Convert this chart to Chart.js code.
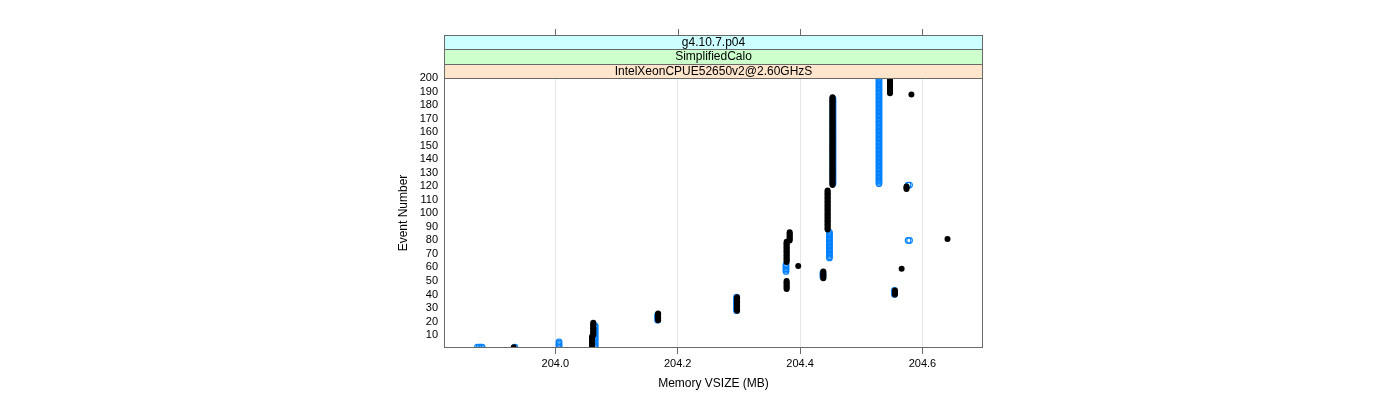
<!DOCTYPE html>
<html><head><meta charset="utf-8">
<script src="https://cdn.jsdelivr.net/npm/chart.js@4/dist/chart.umd.min.js"></script>
<style>html,body{margin:0;padding:0;background:#fff;}#wrap{width:1400px;height:400px;}</style>
</head><body><div id="wrap"><canvas id="c" width="1400" height="400"></canvas></div>
<script>
// ---- data ----
const stripLabels = ["g4.10.7.p04", "SimplifiedCalo", "IntelXeonCPUE52650v2@2.60GHzS"];
const stripColors = ["#ccffff", "#ccffcc", "#ffe5cc"];
const xTickValues = [204.0, 204.2, 204.4, 204.6];
const yTickValues = [10, 20, 30, 40, 50, 60, 70, 80, 90, 100, 110, 120, 130, 140, 150, 160, 170, 180, 190, 200];
const xTitle = "Memory VSIZE (MB)";
const yTitle = "Event Number";

// black series: runs of events sharing one memory value (MB)
const blackMemory = [203.932, 204.060, 204.062, 204.168, 204.297, 204.378, 204.378, 204.383, 204.397, 204.438, 204.445, 204.453, 204.547, 204.555, 204.566, 204.574, 204.582, 204.641];
const blackFirstEvent = [1, 1, 10, 21, 28, 44, 64, 80, 61, 52, 88, 121, 189, 40, 59, 118, 188, 81];
const blackLastEvent  = [1, 9, 19, 26, 38, 50, 79, 86, 61, 57, 117, 186, 200, 43, 59, 120, 188, 81];

// blue series
const blueMemory = [203.8726, 203.8752, 203.8778, 203.8803, 203.934, 204.006, 204.065, 204.1672, 204.2962, 204.377, 204.4374, 204.448, 204.4538, 204.529, 204.5543, 204.5765, 204.579, 204.5765, 204.579];
const blueFirstEvent = [1, 1, 1, 1, 1, 1, 1, 21, 28, 57, 53, 67, 122, 122, 40, 80, 80, 121, 121];
const blueLastEvent  = [1, 1, 1, 1, 1, 5, 17, 25, 38, 62, 56, 86, 185, 200, 43, 80, 80, 121, 121];

function expandRuns(mem, first, last) {
  const pts = [];
  for (let i = 0; i < mem.length; i++) {
    for (let e = first[i]; e <= last[i]; e++) pts.push({x: mem[i], y: e});
  }
  return pts;
}

const FONT = "'Liberation Sans', Arial, sans-serif";
const frameColor = "#6a6a6a";

const latticePlugin = {
  id: 'lattice',
  afterDraw(chart) {
    const ctx = chart.ctx;
    const a = chart.chartArea;
    const xs = chart.scales.x;
    const sTop = 35, sBot = a.top;
    const h = (sBot - sTop) / stripLabels.length;
    ctx.save();
    ctx.font = "12px " + FONT;
    ctx.textAlign = "center";
    ctx.textBaseline = "middle";
    for (let i = 0; i < stripLabels.length; i++) {
      const y0 = Math.round(sTop + i * h);
      const y1 = Math.round(sTop + (i + 1) * h);
      ctx.fillStyle = stripColors[i];
      ctx.fillRect(a.left, y0, a.right - a.left, y1 - y0);
      ctx.strokeStyle = frameColor;
      ctx.lineWidth = 1;
      ctx.strokeRect(a.left + 0.5, y0 + 0.5, a.right - a.left - 1, y1 - y0);
      ctx.fillStyle = "#000";
      ctx.fillText(stripLabels[i], (a.left + a.right) / 2, (y0 + y1) / 2 + 0.5);
    }
    ctx.strokeStyle = frameColor;
    ctx.strokeRect(a.left + 0.5, a.top + 0.5, a.right - a.left - 1, a.bottom - a.top - 1);
    ctx.beginPath();
    for (const v of xTickValues) {
      const px = Math.round(xs.getPixelForValue(v)) + 0.5;
      ctx.moveTo(px, sTop);
      ctx.lineTo(px, sTop - 6);
    }
    ctx.stroke();
    ctx.restore();
  }
};

new Chart(document.getElementById('c'), {
  type: 'scatter',
  data: {
    datasets: [
      {
        label: 'black',
        data: expandRuns(blackMemory, blackFirstEvent, blackLastEvent),
        pointRadius: 3,
        pointBackgroundColor: '#000000',
        pointBorderColor: '#000000',
        pointBorderWidth: 0,
        clip: 0,
        order: 0
      },
      {
        label: 'blue',
        data: expandRuns(blueMemory, blueFirstEvent, blueLastEvent),
        pointRadius: 2.8,
        pointBackgroundColor: 'rgba(0,0,0,0)',
        pointBorderColor: '#0080ff',
        pointBorderWidth: 1.1,
        clip: 0,
        order: 1
      }
    ]
  },
  options: {
    responsive: false,
    animation: false,
    devicePixelRatio: 1,
    layout: {padding: {left: 396, right: 417, top: 78, bottom: 9}},
    plugins: {legend: {display: false}, tooltip: {enabled: false}},
    scales: {
      x: {
        type: 'linear',
        position: 'bottom',
        min: 203.818,
        max: 204.699,
        afterBuildTicks(s) { s.ticks = xTickValues.map(v => ({value: v})); },
        afterFit(s) { s.height = 43; },
        ticks: {
          autoSkip: false, maxRotation: 0, padding: 3, color: '#000',
          font: {family: FONT, size: 11},
          callback: v => Number(v).toFixed(1)
        },
        grid: {color: '#e6e6e6', lineWidth: 1, drawTicks: true, tickLength: 6, tickColor: frameColor, tickWidth: 1},
        border: {display: false},
        title: {display: true, text: xTitle, color: '#000', font: {family: FONT, size: 12}, padding: {top: 0, bottom: 0}}
      },
      y: {
        type: 'linear',
        position: 'left',
        min: 0.4,
        max: 200.2,
        afterBuildTicks(s) { s.ticks = yTickValues.map(v => ({value: v})); },
        afterFit(s) { s.width = 48; },
        ticks: {autoSkip: false, padding: 6, color: '#000', font: {family: FONT, size: 11}},
        grid: {display: false, drawTicks: false},
        border: {display: false},
        title: {display: true, text: yTitle, color: '#000', font: {family: FONT, size: 12}, padding: {top: 0, bottom: 0}}
      }
    }
  },
  plugins: [latticePlugin]
});
</script>
</body></html>
